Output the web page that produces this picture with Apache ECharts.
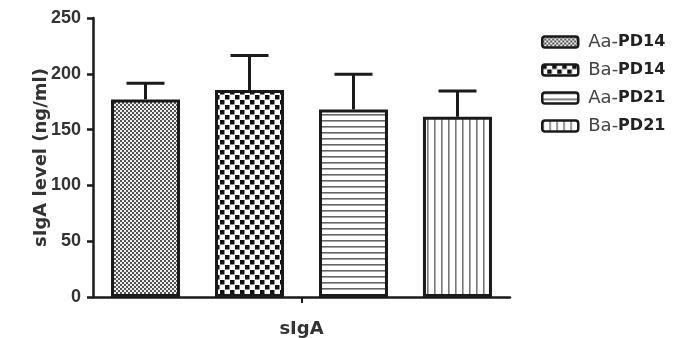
<!DOCTYPE html>
<html>
<head>
<meta charset="utf-8">
<script src="https://cdn.jsdelivr.net/npm/echarts@6/dist/echarts.min.js"></script>
<style>html,body{margin:0;padding:0;background:#fff;}#c{width:682px;height:338px;}</style>
</head>
<body>
<div id="c"></div>
<script>
const categories = ['sIgA'];
const seriesNames = ['Aa-PD14', 'Ba-PD14', 'Aa-PD21', 'Ba-PD21'];
const means = [177, 185.5, 168, 161.5];
const upperBounds = [191.5, 216.5, 199.5, 184.5];
const yMin = 0, yMax = 250, yStep = 50;

const BAR_W = 69, GAP = 35;

function makePattern(kind) {
  const c = document.createElement('canvas');
  const ctx = c.getContext('2d');
  if (kind === 0) {
    c.width = 4; c.height = 4;
    ctx.fillStyle = '#eeeeee'; ctx.fillRect(0, 0, 4, 4);
    ctx.fillStyle = '#555'; ctx.fillRect(0, 0, 2, 2); ctx.fillRect(2, 2, 2, 2);
  } else if (kind === 1) {
    c.width = 10; c.height = 10;
    ctx.fillStyle = '#fff'; ctx.fillRect(0, 0, 10, 10);
    ctx.fillStyle = '#111'; ctx.fillRect(0, 0, 4.5, 4.5); ctx.fillRect(5, 5, 4.5, 4.5);
  } else if (kind === 2) {
    c.width = 6; c.height = 6;
    ctx.fillStyle = '#fff'; ctx.fillRect(0, 0, 6, 6);
    ctx.fillStyle = '#666'; ctx.fillRect(0, 0, 6, 1.6);
  } else {
    c.width = 7; c.height = 7;
    ctx.fillStyle = '#fff'; ctx.fillRect(0, 0, 7, 7);
    ctx.fillStyle = '#777'; ctx.fillRect(0, 0, 1.6, 7);
  }
  return { image: c, repeat: 'repeat' };
}

const barSeries = seriesNames.map((name, i) => ({
  name: name,
  type: 'bar',
  data: [means[i]],
  barWidth: BAR_W,
  barGap: (GAP / BAR_W * 100).toFixed(1) + '%',
  itemStyle: { color: makePattern(i), borderColor: '#1a1a1a', borderWidth: 3 },
  z: 2
}));

const errData = seriesNames.map((n, i) => [0, means[i], upperBounds[i], i]);

const errSeries = {
  name: 'err',
  type: 'custom',
  data: errData,
  encode: { x: 0, y: [1, 2] },
  z: 5,
  renderItem: function (params, api) {
    const g = api.value(3);
    const base = api.coord([0, api.value(1)]);
    const top = api.coord([0, api.value(2)]);
    const x = base[0] + (g - 1.5) * (BAR_W + GAP);
    return {
      type: 'group',
      children: [
        { type: 'line', shape: { x1: x, y1: base[1], x2: x, y2: top[1] }, style: { stroke: '#1a1a1a', lineWidth: 3 } },
        { type: 'line', shape: { x1: x - 19, y1: top[1], x2: x + 19, y2: top[1] }, style: { stroke: '#1a1a1a', lineWidth: 3 } }
      ]
    };
  }
};

const chart = echarts.init(document.getElementById('c'), null, { renderer: 'canvas' });
chart.setOption({
  animation: false,
  backgroundColor: '#fff',
  grid: { left: 93, right: 172, top: 18, bottom: 41, containLabel: false },
  legend: {
    data: seriesNames,
    orient: 'vertical',
    left: 536,
    top: 28,
    itemWidth: 36,
    itemHeight: 11,
    itemGap: 10,
    icon: 'roundRect',
    itemStyle: { borderColor: '#1a1a1a', borderWidth: 2.5 },
    formatter: function (name) {
      const p = name.split('-');
      return '{a|' + p[0] + '-}{b|' + p[1] + '}';
    },
    textStyle: {
      padding: [0, 0, 0, 5],
      rich: {
        a: { fontFamily: 'DejaVu Sans', fontSize: 18, color: '#444', lineHeight: 20 },
        b: { fontFamily: 'DejaVu Sans', fontWeight: 'bold', fontSize: 16, color: '#222', lineHeight: 20 }
      }
    }
  },
  xAxis: {
    type: 'category',
    data: categories,
    axisLine: { lineStyle: { color: '#1a1a1a', width: 2.5 } },
    axisTick: { show: true, alignWithLabel: true, length: 6, lineStyle: { color: '#1a1a1a', width: 2 } },
    axisLabel: { margin: 23, fontFamily: 'DejaVu Sans', fontWeight: 'bold', fontSize: 18, color: '#333' }
  },
  yAxis: {
    type: 'value',
    min: yMin, max: yMax, interval: yStep,
    name: 'sIgA level (ng/ml)',
    nameLocation: 'middle',
    nameGap: 43,
    nameMoveOverlap: false,
    nameTextStyle: { fontFamily: 'DejaVu Sans', fontWeight: 'bold', fontSize: 18, color: '#333' },
    splitLine: { show: false },
    axisLine: { show: true, lineStyle: { color: '#1a1a1a', width: 2.5 } },
    axisTick: { show: true, length: 6, lineStyle: { color: '#1a1a1a', width: 2.5 } },
    axisLabel: { margin: 12, fontFamily: 'Liberation Sans', fontWeight: 'bold', fontSize: 18, color: '#333' }
  },
  series: barSeries.concat([errSeries])
});
</script>
</body>
</html>
